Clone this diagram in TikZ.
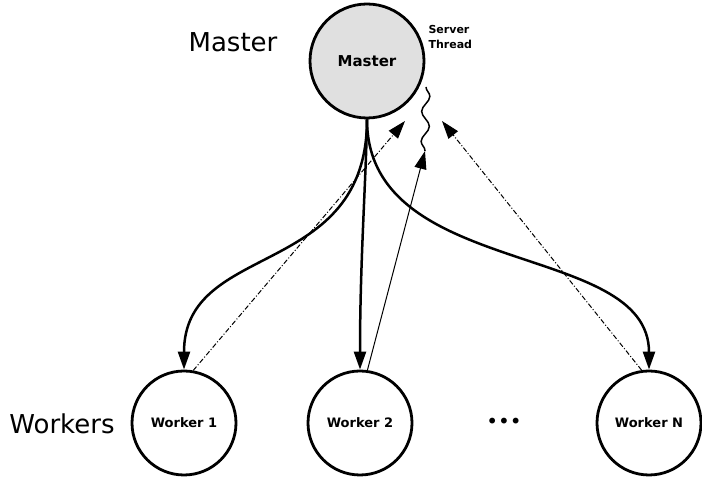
\documentclass[tikz,border=0pt]{standalone}
\usepackage{fontspec}
\setmainfont{DejaVu Sans}
\usetikzlibrary{arrows.meta,decorations.pathmorphing}
\begin{document}
\begin{tikzpicture}[x=1pt,y=1pt,
  proc/.style={circle, draw, line width=2.8pt, minimum size=104pt, inner sep=0pt, font=\bfseries\fontsize{13}{15}\selectfont},
  send/.style={line width=2.5pt, -{Triangle[length=18pt,width=12pt]}},
  reply/.style={line width=1pt, dash pattern=on 5pt off 2pt on 1pt off 2pt, -{Triangle[length=18pt,width=12pt]}},
  big/.style={font=\fontsize{26}{30}\selectfont}]
\useasboundingbox (0,0) rectangle (702,481);
% master and its thread
\node[proc, minimum size=114pt, fill=black!12, font=\bfseries\fontsize{15}{17}\selectfont] (master) at (367,420) {Master};
\node[big] (mlabel) at (233,439) {Master};
\node[font=\bfseries\fontsize{11}{15}\selectfont, align=left, anchor=west] (thread) at (425,444) {Server\\Thread};
\coordinate (ttop) at (426,394);
\coordinate (tbot) at (425,330);
\draw[line width=1.5pt, decorate, decoration={snake, amplitude=4pt, segment length=30pt}] (ttop) -- (tbot);
% workers
\node[proc] (w1) at (184,58) {Worker 1};
\node[proc] (w2) at (360,58) {Worker 2};
\node[proc] (wn) at (649,58) {Worker N};
\node[big] (wlabel) at (62,57) {Workers};
\node[font=\fontsize{20}{20}\selectfont] (dots) at (504,58) {•••};
% master to workers
\draw[send] (master.south) .. controls (367,201) and (184,241) .. (w1.north);
\draw[send] (master.south) .. controls (366,300) and (360,220) .. (w2.north);
\draw[send] (master.south) .. controls (367,201) and (649,241) .. (wn.north);
% workers to server thread
\coordinate (in1) at (405,360);
\coordinate (inN) at (442,360);
\draw[reply] (w1.80) -- (in1);
\draw[reply, solid] (w2.82) -- (tbot);
\draw[reply] (wn.98) -- (inN);
\end{tikzpicture}
\end{document}
